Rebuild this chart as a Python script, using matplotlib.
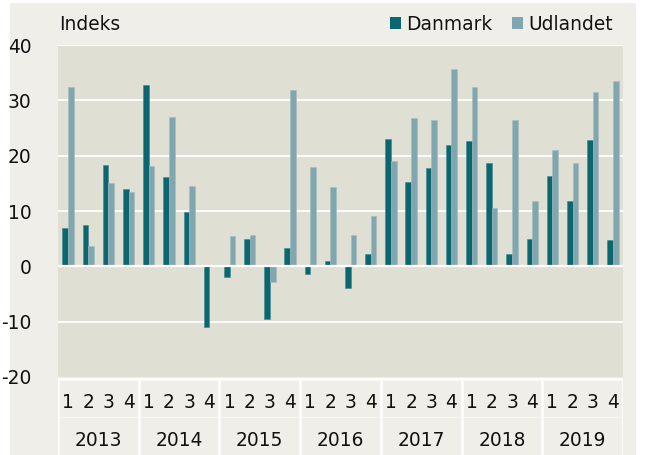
import matplotlib
matplotlib.use("Agg")
import matplotlib.pyplot as plt
from matplotlib.patches import Rectangle
import numpy as np

plt.rcParams['font.family'] = ['DejaVu Sans']

years = ["2013", "2014", "2015", "2016", "2017", "2018", "2019"]
quarters = ["1", "2", "3", "4"]
danmark = [7.0, 7.4, 18.4, 14.0,
           32.7, 16.2, 9.9, -10.9,
           -2.0, 5.0, -9.5, 3.4,
           -1.3, 1.0, -4.0, 2.3,
           23.0, 15.2, 17.8, 21.9,
           22.6, 18.6, 2.2, 4.9,
           16.4, 11.8, 22.8, 4.8]
udlandet = [32.5, 3.7, 15.0, 13.5,
            18.1, 26.9, 14.6, 0.0,
            5.5, 5.6, -2.9, 31.9,
            18.0, 14.4, 5.6, 9.1,
            19.0, 26.8, 26.4, 35.7,
            32.5, 10.5, 26.4, 11.8,
            21.1, 18.6, 31.5, 33.5]
yticks = [-20, -10, 0, 10, 20, 30, 40]

W, H = 646, 455
FS = 13.4
panel = "#efeee8"
plotbg = "#e0dfd4"
c_dk = "#0b6670"
c_ud = "#80a6af"
txt = "#111111"

fig = plt.figure(figsize=(W / 100, H / 100), dpi=100, facecolor="white")
fig.patches.append(Rectangle((10 / W, 0), 626 / W, 452 / H, transform=fig.transFigure,
                             facecolor=panel, edgecolor="none", zorder=-10))

x0, x1 = 58, 623
y_top, y_bot = 45, 377
ax = fig.add_axes([x0 / W, (H - y_bot) / H, (x1 - x0) / W, (y_bot - y_top) / H])
ax.set_facecolor(plotbg)
n = len(danmark)
x = np.arange(n)
w = 0.28
ax.bar(x - w / 2, danmark, width=w, color=c_dk, edgecolor="#3f8790", linewidth=0.4,
       label="Danmark", zorder=2)
ax.bar(x + w / 2, udlandet, width=w, color=c_ud, edgecolor="#a3bcc1", linewidth=0.4,
       label="Udlandet", zorder=2)
ax.set_xlim(-0.5, n - 0.5)
ax.set_ylim(-20, 40)
for t in yticks:
    if t == 0:
        ax.axhline(t, color="white", lw=1.6, zorder=3)
    elif t != -20:
        ax.axhline(t, color="white", lw=1.3, zorder=1)
for s in ax.spines.values():
    s.set_visible(False)
ax.set_xticks([])
ax.set_yticks(yticks)
ax.set_yticklabels([str(t) for t in yticks], fontsize=FS, color=txt)
ax.tick_params(axis="y", length=0, pad=19)

# category axis
cax = fig.add_axes([x0 / W, 0, (x1 - x0) / W, (H - 378) / H])
cax.set_xlim(-0.5, n - 0.5)
cax.set_ylim(0, 1)
cax.axis("off")
ypx = H - 378
cax.axhline(1 - 1 / ypx, color="white", lw=1.8, zorder=2)
cax.axhline(1 - (417 - 378) / ypx, color="white", lw=0.8, alpha=0.5, zorder=1)
for k in range(len(years) + 1):
    cax.axvline(-0.5 + 4 * k, color="white", lw=1.8, zorder=2)
for i in range(n):
    cax.text(i, 1 - (403 - 378) / ypx, quarters[i % 4], ha="center", va="center",
             fontsize=FS, color=txt)
for k, yr in enumerate(years):
    cax.text(4 * k + 1.5, 1 - (441 - 378) / ypx, yr, ha="center", va="center",
             fontsize=FS, color=txt)

fig.text(59 / W, 1 - 25 / H, "Indeks", fontsize=FS, ha="left", va="center", color=txt)

leg = ax.legend(loc="center right", bbox_to_anchor=(613 / W, 1 - 24 / H),
                bbox_transform=fig.transFigure, ncol=2, frameon=False, fontsize=FS,
                handlelength=0.6, handleheight=0.6, handletextpad=0.27,
                columnspacing=1.05, borderpad=0, borderaxespad=0)
for h in leg.legend_handles:
    h.set_edgecolor("none")
for t in leg.get_texts():
    t.set_color(txt)

fig.savefig("out.png", dpi=100, facecolor="white")
